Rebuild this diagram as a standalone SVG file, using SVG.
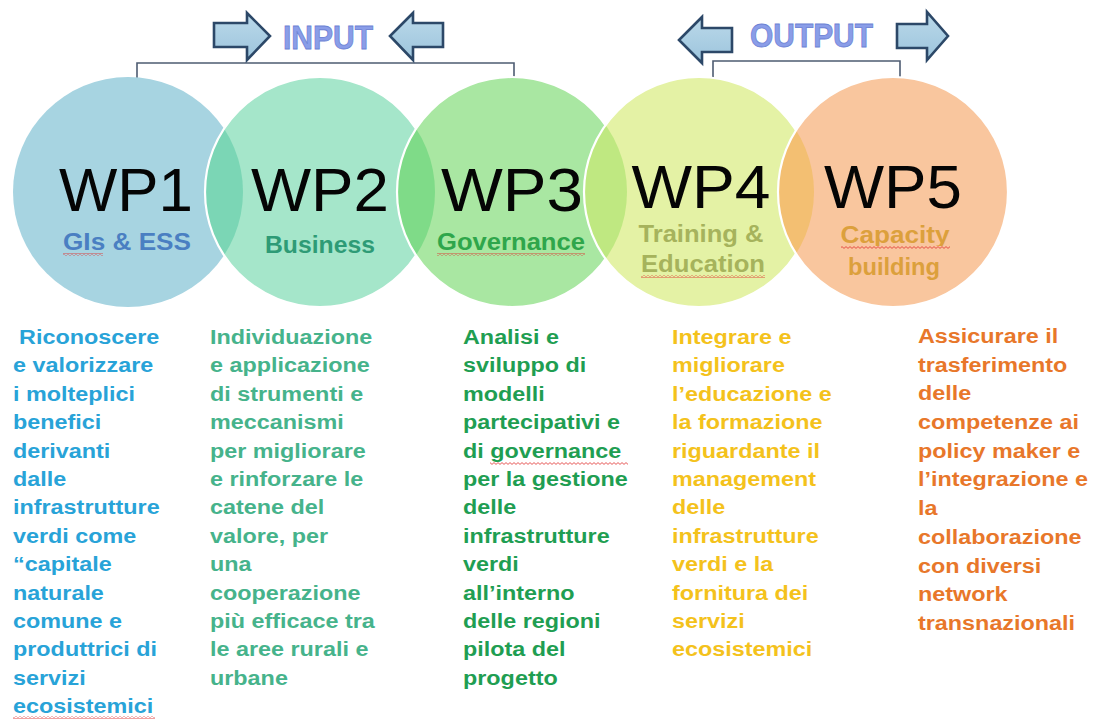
<svg xmlns="http://www.w3.org/2000/svg" width="1093" height="724" viewBox="0 0 1093 724">
<style>
  .wp { font-family: "Liberation Sans", Arial, sans-serif; font-size: 61px; fill: #050505; text-anchor: middle; }
  .sub { font-family: "Liberation Sans", Arial, sans-serif; font-size: 23px; font-weight: bold; text-anchor: middle; }
  .desc { font-family: "Liberation Sans", Arial, sans-serif; font-size: 20.5px; font-weight: bold; }
  .io { font-family: "Liberation Sans", Arial, sans-serif; font-size: 33px; font-weight: bold; fill: #8A9DE8; stroke: #6C82D4; stroke-width: 0.8; }
  .ring { fill: none; stroke: #FFFFFF; stroke-width: 2.2; }
  .arrow { fill: url(#arrowFill); stroke: #2C4868; stroke-width: 2.6; stroke-linejoin: miter; }
  .bracket { fill: none; stroke: #4E5C72; stroke-width: 1.6; }
</style>
<defs>
  <linearGradient id="arrowFill" x1="0" y1="0" x2="0" y2="1">
    <stop offset="0" stop-color="#BBD9EA"/>
    <stop offset="1" stop-color="#9CC4DC"/>
  </linearGradient>
  <pattern id="sq" width="4" height="3" patternUnits="userSpaceOnUse">
    <path d="M0 2.4 L2 0.6 L4 2.4" fill="none" stroke="#E0302E" stroke-width="0.8"/>
  </pattern>
  <clipPath id="c1"><circle cx="128" cy="192" r="115"/></clipPath>
  <clipPath id="c2"><circle cx="320" cy="192" r="115"/></clipPath>
  <clipPath id="c3"><circle cx="512" cy="192" r="115"/></clipPath>
  <clipPath id="c4"><circle cx="699" cy="192" r="115"/></clipPath>
  <clipPath id="capClip"><rect x="820" y="200" width="150" height="46"/></clipPath>
</defs>
<rect width="1093" height="724" fill="#FFFFFF"/>

<g id="connectors">
  <path class="bracket" d="M137 104 V63 H514 V104"/>
  <path class="bracket" d="M713 102 V61 H900 V102"/>
</g>

<g id="input">
  <path class="arrow" d="M214 23 H247 V13 L270 36 L247 60 V47 H214 Z"/>
  <path class="arrow" d="M443 23 H413 V13 L390 36 L413 60 V47 H443 Z"/>
  <text class="io" x="283" y="49" textLength="90" lengthAdjust="spacingAndGlyphs">INPUT</text>
</g>

<g id="output">
  <path class="arrow" d="M732 28 H702 V17 L679 40 L702 63 V52 H732 Z"/>
  <path class="arrow" d="M897 24 H927 V12 L948 36 L927 60 V48 H897 Z"/>
  <text class="io" x="750" y="47" textLength="123" lengthAdjust="spacingAndGlyphs">OUTPUT</text>
</g>

<g id="wp1">
  <circle cx="128" cy="192" r="115" fill="#A7D4E1"/>
  <text class="wp" x="126" y="211" textLength="134" lengthAdjust="spacingAndGlyphs">WP1</text>
  <text class="sub" x="127" y="250" fill="#4A7FC2" textLength="128" lengthAdjust="spacingAndGlyphs">GIs &amp; ESS</text>
  <rect x="63" y="253" width="40" height="3" fill="url(#sq)"/>
  <g transform="translate(13,0) scale(1.14,1)">
    <text class="desc" fill="#28A3D8">
      <tspan x="5.3" y="344">Riconoscere</tspan>
      <tspan x="0" y="372.4">e valorizzare</tspan>
      <tspan x="0" y="400.8">i molteplici</tspan>
      <tspan x="0" y="429.2">benefici</tspan>
      <tspan x="0" y="457.6">derivanti</tspan>
      <tspan x="0" y="486">dalle</tspan>
      <tspan x="0" y="514.4">infrastrutture</tspan>
      <tspan x="0" y="542.8">verdi come</tspan>
      <tspan x="0" y="571.2">“capitale</tspan>
      <tspan x="0" y="599.6">naturale</tspan>
      <tspan x="0" y="628">comune e</tspan>
      <tspan x="0" y="656.4">produttrici di</tspan>
      <tspan x="0" y="684.8">servizi</tspan>
      <tspan x="0" y="713.2">ecosistemici</tspan>
    </text>
  </g>
  <rect x="13" y="716" width="142" height="3" fill="url(#sq)"/>
</g>

<g id="wp2">
  <circle cx="320" cy="192" r="115" fill="#A5E6CA"/>
  <circle cx="320" cy="192" r="115" fill="#7BD6B5" clip-path="url(#c1)"/>
  <circle class="ring" cx="320" cy="192" r="115"/>
  <text class="wp" x="320" y="211" textLength="138" lengthAdjust="spacingAndGlyphs">WP2</text>
  <text class="sub" x="320" y="253" fill="#2E9B76" textLength="110" lengthAdjust="spacingAndGlyphs">Business</text>
  <g transform="translate(210,0) scale(1.14,1)">
    <text class="desc" fill="#46B38B">
      <tspan x="0" y="344">Individuazione</tspan>
      <tspan x="0" y="372.4">e applicazione</tspan>
      <tspan x="0" y="400.8">di strumenti e</tspan>
      <tspan x="0" y="429.2">meccanismi</tspan>
      <tspan x="0" y="457.6">per migliorare</tspan>
      <tspan x="0" y="486">e rinforzare  le</tspan>
      <tspan x="0" y="514.4">catene del</tspan>
      <tspan x="0" y="542.8">valore, per</tspan>
      <tspan x="0" y="571.2">una</tspan>
      <tspan x="0" y="599.6">cooperazione</tspan>
      <tspan x="0" y="628">più efficace tra</tspan>
      <tspan x="0" y="656.4">le aree rurali  e</tspan>
      <tspan x="0" y="684.8">urbane</tspan>
    </text>
  </g>
</g>

<g id="wp3">
  <circle cx="512" cy="192" r="115" fill="#A9E7A2"/>
  <circle cx="512" cy="192" r="115" fill="#7FDB88" clip-path="url(#c2)"/>
  <circle class="ring" cx="512" cy="192" r="115"/>
  <text class="wp" x="512" y="211" textLength="142" lengthAdjust="spacingAndGlyphs">WP3</text>
  <text class="sub" x="511" y="250" fill="#2FA64B" textLength="148" lengthAdjust="spacingAndGlyphs">Governance</text>
  <rect x="437" y="253" width="148" height="3" fill="url(#sq)"/>
  <g transform="translate(463,0) scale(1.14,1)">
    <text class="desc" fill="#1F9E52">
      <tspan x="0" y="344">Analisi e</tspan>
      <tspan x="0" y="372.4">sviluppo di</tspan>
      <tspan x="0" y="400.8">modelli</tspan>
      <tspan x="0" y="429.2">partecipativi e</tspan>
      <tspan x="0" y="457.6">di governance</tspan>
      <tspan x="0" y="486">per la gestione</tspan>
      <tspan x="0" y="514.4">delle</tspan>
      <tspan x="0" y="542.8">infrastrutture</tspan>
      <tspan x="0" y="571.2">verdi</tspan>
      <tspan x="0" y="599.6">all’interno</tspan>
      <tspan x="0" y="628">delle regioni</tspan>
      <tspan x="0" y="656.4">pilota del</tspan>
      <tspan x="0" y="684.8">progetto</tspan>
    </text>
  </g>
  <rect x="490" y="462" width="138" height="3" fill="url(#sq)"/>
</g>

<g id="wp4">
  <circle cx="699" cy="192" r="115" fill="#E4F2A5"/>
  <circle cx="699" cy="192" r="115" fill="#BFE881" clip-path="url(#c3)"/>
  <circle class="ring" cx="699" cy="192" r="115"/>
  <text class="wp" x="701" y="208" textLength="139" lengthAdjust="spacingAndGlyphs">WP4</text>
  <text class="sub" x="701" y="242" fill="#A6B35C" textLength="125" lengthAdjust="spacingAndGlyphs">Training &amp;</text>
  <text class="sub" x="703" y="272" fill="#A6B35C" textLength="124" lengthAdjust="spacingAndGlyphs">Education</text>
  <rect x="641" y="275" width="124" height="3" fill="url(#sq)"/>
  <g transform="translate(672,0) scale(1.14,1)">
    <text class="desc" fill="#F4C21C">
      <tspan x="0" y="344">Integrare e</tspan>
      <tspan x="0" y="372.4">migliorare</tspan>
      <tspan x="0" y="400.8">l’educazione e</tspan>
      <tspan x="0" y="429.2">la formazione</tspan>
      <tspan x="0" y="457.6">riguardante il</tspan>
      <tspan x="0" y="486">management</tspan>
      <tspan x="0" y="514.4">delle</tspan>
      <tspan x="0" y="542.8">infrastrutture</tspan>
      <tspan x="0" y="571.2">verdi e la</tspan>
      <tspan x="0" y="599.6">fornitura dei</tspan>
      <tspan x="0" y="628">servizi</tspan>
      <tspan x="0" y="656.4">ecosistemici</tspan>
    </text>
  </g>
</g>

<g id="wp5">
  <circle cx="893" cy="192" r="115" fill="#F9C69E"/>
  <circle cx="893" cy="192" r="115" fill="#F3BF72" clip-path="url(#c4)"/>
  <circle class="ring" cx="893" cy="192" r="115"/>
  <text class="wp" x="893" y="208" textLength="138" lengthAdjust="spacingAndGlyphs">WP5</text>
  <text class="sub" x="895" y="243" fill="#DCA03C" textLength="109" lengthAdjust="spacingAndGlyphs" clip-path="url(#capClip)">Capacity</text>
  <rect x="841" y="246" width="109" height="3" fill="url(#sq)"/>
  <text class="sub" x="894" y="275" fill="#DCA03C" textLength="92" lengthAdjust="spacingAndGlyphs">building</text>
  <g transform="translate(918,0) scale(1.14,1)">
    <text class="desc" fill="#E8772A">
      <tspan x="0" y="343">Assicurare il</tspan>
      <tspan x="0" y="371.7">trasferimento</tspan>
      <tspan x="0" y="400.4">delle</tspan>
      <tspan x="0" y="429.1">competenze ai</tspan>
      <tspan x="0" y="457.8">policy maker e</tspan>
      <tspan x="0" y="486.5">l’integrazione e</tspan>
      <tspan x="0" y="515.2">la</tspan>
      <tspan x="0" y="543.9">collaborazione</tspan>
      <tspan x="0" y="572.6">con diversi</tspan>
      <tspan x="0" y="601.3">network</tspan>
      <tspan x="0" y="630">transnazionali</tspan>
    </text>
  </g>
</g>
</svg>
